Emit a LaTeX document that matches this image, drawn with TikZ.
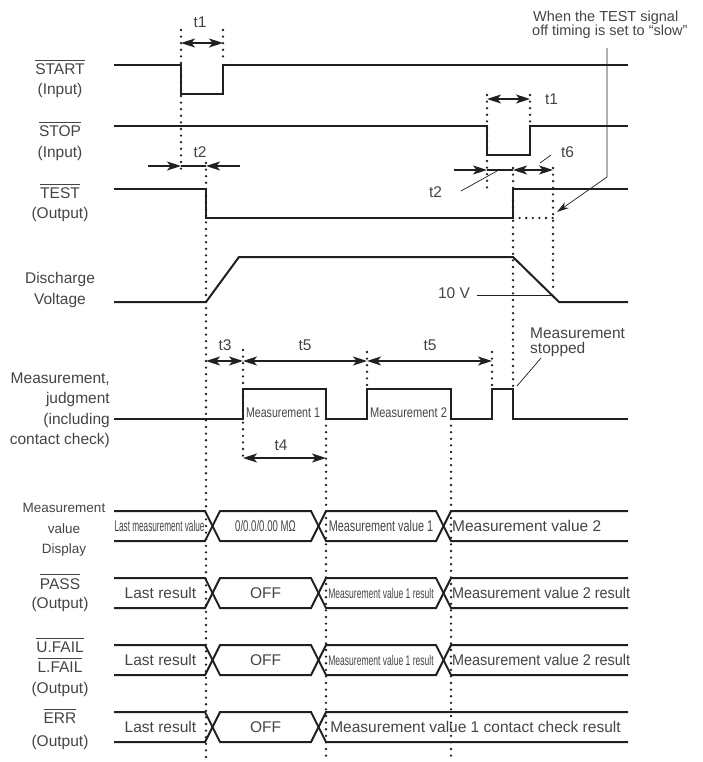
\documentclass[tikz,border=0pt]{standalone}
\usepackage{fontspec}
\setmainfont{Liberation Sans}
\usetikzlibrary{arrows.meta}
\definecolor{timingInk}{HTML}{231F20}
\definecolor{timingText}{HTML}{444444}
\newcommand{\ovl}[1]{\vbox{\hrule height 0.9pt\kern2.8pt\hbox{#1}}}
\newcommand{\narrow}[2]{\scalebox{#1}[1]{#2}}

\begin{document}
\begin{tikzpicture}[x=1pt, y=-1pt,
    sig/.style={line width=2pt, draw=timingInk},
    guide/.style={line width=2.6pt, draw=timingInk, line cap=round, dash pattern=on 0pt off 6.6pt},
    dim/.style={line width=1.1pt, draw=timingInk},
    lead/.style={line width=0.7pt, draw=timingInk},
    txt/.style={inner sep=0pt, text=timingText, font=\fontsize{15.5}{18}\selectfont, anchor=base},
    >={Stealth[length=14pt, width=9pt, inset=3.5pt]}]
    \useasboundingbox (0,0) rectangle (702,762);

    % dotted timing guides
    \foreach \gx/\ga/\gb in {181/30/172, 223/30/62, 487/95/188, 530/95/124, 206/163/757,
        513/168/387, 553/168/293, 243/350/462, 326/419/757, 367/352/389, 492/352/389, 451/419/757}
        \draw[guide] (\gx,\ga) -- (\gx,\gb);
    \draw[guide] (513,218) -- (553,218);

    % signals
    \draw[sig] (114,65) -- (181,65) -- (181,94) -- (223,94) -- (223,65) -- (628,65);
    \draw[sig] (114,126) -- (487,126) -- (487,155) -- (530,155) -- (530,126) -- (628,126);
    \draw[sig] (114,189) -- (206,189) -- (206,218) -- (513,218) -- (513,189) -- (628,189);
    \draw[sig] (114,302) -- (206,302) -- (239,257) -- (513,257) -- (559,302) -- (628,302);
    \draw[sig] (114,419) -- (243,419) -- (243,389) -- (326,389) -- (326,419) -- (367,419) -- (367,389)
        -- (451,389) -- (451,419) -- (492,419) -- (492,389) -- (513,389) -- (513,419) -- (628,419);

    % bus rows
    \foreach \yt in {511,578,645} {
        \pgfmathsetmacro\yb{\yt+30}
        \draw[sig] (114,\yt) -- (205,\yt) -- (220,\yb) -- (311,\yb) -- (326,\yt) -- (436,\yt) -- (451,\yb) -- (628,\yb);
        \draw[sig] (114,\yb) -- (205,\yb) -- (220,\yt) -- (311,\yt) -- (326,\yb) -- (436,\yb) -- (451,\yt) -- (628,\yt);
    }
    \draw[sig] (114,712) -- (205,712) -- (220,742) -- (311,742) -- (326,712) -- (628,712);
    \draw[sig] (114,742) -- (205,742) -- (220,712) -- (311,712) -- (326,742) -- (628,742);

    % dimension arrows
    \draw[dim,<->] (181,43) -- (223,43);
    \draw[dim,<->] (487,99) -- (530,99);
    \draw[dim,->] (148,166) -- (181,166);
    \draw[dim,->] (240,166) -- (206,166);
    \draw[dim] (181,166) -- (206,166);
    \draw[dim,->] (454,170) -- (487,170);
    \draw[dim] (487,170) -- (513,170);
    \draw[dim,<->] (513,170) -- (553,170);
    \draw[dim,<->] (206,361) -- (243,361);
    \draw[dim,<->] (243,361) -- (367,361);
    \draw[dim,<->] (367,361) -- (492,361);
    \draw[dim,<->] (243,458) -- (326,458);

    \node[txt] (t1a) at (200,28) {t1};
    \node[txt] (t1b) at (551.5,105) {t1};
    \node[txt] (t2a) at (200,158) {t2};
    \node[txt] (t2b) at (435.5,197) {t2};
    \node[txt] (t6) at (567.5,158) {t6};
    \node[txt] (t3) at (225,350) {t3};
    \node[txt] (t5a) at (305,350) {t5};
    \node[txt] (t5b) at (430,350) {t5};
    \node[txt] (t4) at (281,450) {t4};
    \node[txt] (tenV) at (454,298) {10 V};
    \node[txt, anchor=base west, font=\fontsize{14.5}{16}\selectfont] (slowA) at (533,22) {When the TEST signal};
    \node[txt, anchor=base west, font=\fontsize{14.5}{16}\selectfont] (slowB) at (532,35.5) {off timing is set to “slow”};
    \node[txt, anchor=base west] (stopA) at (530,338) {Measurement};
    \node[txt, anchor=base west] (stopB) at (530,353) {stopped};

    % leaders
    \draw[lead] (540,163) -- (551,155);
    \draw[lead] (461,191) -- (497,171);
    \draw[lead] (477,295) -- (552,295);
    \draw[lead] (541,358) -- (517,386);
    \draw[lead,-{Stealth[length=12pt, width=7pt]}] (607,48) -- (607,177) -- (557,212);

    % signal names
    \foreach \ly/\lt [count=\i] in {75/{\ovl{START}}, 94.5/(Input), 137/{\ovl{STOP}}, 157.5/(Input),
        198.5/{\ovl{TEST}}, 218.5/(Output), 283.5/Discharge, 304/Voltage, 589/{\ovl{PASS}}, 608.5/(Output),
        652/{\ovl{U.FAIL}}, 672/{\ovl{L.FAIL}}, 693/(Output), 723/{\ovl{ERR}}, 746/(Output)}
        \node[txt] (lbl\i) at (60,\ly) {\lt};
    \foreach \ly/\lt [count=\i] in {383/{Measurement,}, 403/judgment, 424/(including, 444/{contact check)}}
        \node[txt, anchor=base east] (meas\i) at (110,\ly) {\lt};
    \foreach \ly/\lt [count=\i] in {512/Measurement, 533/value, 553/Display}
        \node[txt, font=\fontsize{13.5}{16}\selectfont] (disp\i) at (64,\ly) {\lt};

    % pulse and bus contents
    \node[txt, font=\fontsize{14}{16}\selectfont] (pulse1) at (283,417) {\narrow{0.76}{Measurement 1}};
    \node[txt, font=\fontsize{14}{16}\selectfont] (pulse2) at (408.5,417) {\narrow{0.79}{Measurement 2}};
    \node[txt] (dispOld) at (159.5,531.5) {\narrow{0.53}{Last measurement value}};
    \node[txt] (dispZero) at (265.5,531.5) {\narrow{0.62}{0/0.0/0.00 MΩ}};
    \node[txt] (dispV1) at (381,531.5) {\narrow{0.70}{Measurement value 1}};
    \node[txt, anchor=base west] (dispV2) at (452,531.5) {Measurement value 2};
    \foreach \ry [count=\i] in {598.5,665.5} {
        \node[txt] (old\i) at (160.5,\ry) {Last result};
        \node[txt] (off\i) at (265.5,\ry) {OFF};
        \node[txt, font=\fontsize{14}{16}\selectfont] (resA\i) at (381,\ry) {\narrow{0.61}{Measurement value 1 result}};
        \node[txt, anchor=base west] (resB\i) at (452,\ry) {\narrow{0.93}{Measurement value 2 result}};
    }
    \node[txt] (old3) at (160.5,732.5) {Last result};
    \node[txt] (off3) at (265.5,732.5) {OFF};
    \node[txt] (errRes) at (475.5,732.5) {Measurement value 1 contact check result};
\end{tikzpicture}
\end{document}
